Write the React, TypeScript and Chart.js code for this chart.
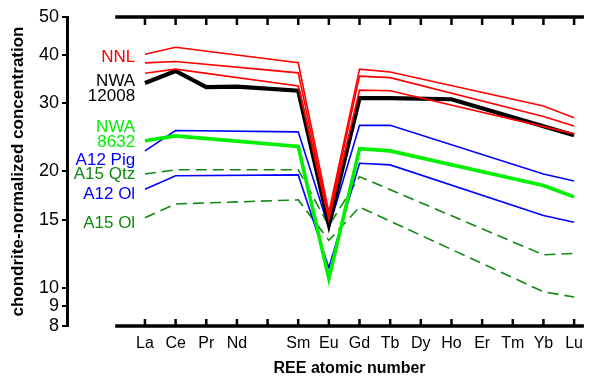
import React, { useEffect, useRef } from 'react';
import { Chart, registerables } from 'chart.js';

Chart.register(...registerables);

// ---- data ----
const elements = ['La', 'Ce', 'Pr', 'Nd', 'Pm', 'Sm', 'Eu', 'Gd', 'Tb', 'Dy', 'Ho', 'Er', 'Tm', 'Yb', 'Lu'];
const atomicNumbers = [57, 58, 59, 60, 61, 62, 63, 64, 65, 66, 67, 68, 69, 70, 71];
const unlabeledElements = ['Pm'];
const yTickValues = [8, 9, 10, 15, 20, 30, 40, 50];

//                 La    Ce    Pr    Nd    Pm    Sm    Eu    Gd    Tb    Dy    Ho    Er    Tm    Yb    Lu
const nnlHigh = [40.1, 41.8, null, null, null, 38.1, 15.7, 36.7, 36.1, null, null, null, null, 29.5, 27.5];
const nnlMid = [38.1, 38.4, null, null, null, 35.9, 15.3, 35.2, 34.9, null, null, null, null, 27.7, 26.2];
const nnlLow = [35.8, 36.7, null, null, null, 33.2, 15.0, 32.4, 32.3, null, null, null, null, 26.1, 25.0];
const nwa12008 = [33.8, 36.3, 33.0, 33.1, null, 32.3, 14.6, 30.9, 30.9, null, 30.7, null, null, null, 24.8];
const nwa8632 = [24.0, 24.7, null, null, null, 23.2, 10.6, 22.9, 22.6, null, null, null, null, 18.4, 17.2];
const a12Pig = [22.6, 25.5, null, null, null, 25.3, 14.3, 26.3, 26.3, null, null, null, null, 19.7, 18.9];
const a15Qtz = [19.7, 20.2, null, null, null, 20.2, 14.5, 19.4, null, null, null, null, null, 12.2, 12.3];
const a12Ol = [18.0, 19.5, null, null, null, 19.6, 11.3, 21.0, 20.8, null, null, null, null, 15.4, 14.8];
const a15Ol = [15.2, 16.5, null, null, null, 16.9, 13.3, 16.2, null, null, null, null, null, 9.8, 9.5];

// ---- styles ----
const RED = '#ff0000';
const BLACK = '#000000';
const BLUE = '#0000ff';
const LIME = '#00f000';
const DKGREEN = '#118811';
const FONT = '"Liberation Sans", Arial, Helvetica, sans-serif';

const X_MIN = 54.457;
const X_MAX = 71.32;
const AXIS_START = 56.03;
const LABEL_X = 56.68;

const seriesLabels = [
  { lines: ['NNL'], color: RED, at: 39.4 },
  { lines: ['NWA', '12008'], color: BLACK, at: 32.7 },
  { lines: ['NWA', '8632'], color: LIME, at: 24.8 },
  { lines: ['A12 Pig'], color: BLUE, at: 21.4 },
  { lines: ['A15 Qtz'], color: DKGREEN, at: 19.7 },
  { lines: ['A12 Ol'], color: BLUE, at: 17.5 },
  { lines: ['A15 Ol'], color: DKGREEN, at: 14.7 },
];

const toPoints = (arr: (number | null)[]) =>
  atomicNumbers
    .map((x, i) => ({ x, y: arr[i] }))
    .filter((p) => p.y !== null) as { x: number; y: number }[];

const line = (label: string, arr: (number | null)[], color: string, width: number, dash: number[] = []) => ({
  label,
  data: toPoints(arr),
  borderColor: color,
  backgroundColor: color,
  borderWidth: width,
  borderDash: dash,
  pointRadius: 0,
  tension: 0,
  fill: false,
});

const framePlugin = {
  id: 'frame',
  afterDraw(chart: any) {
    const { ctx, chartArea, scales } = chart;
    const xs = scales.x;
    const ys = scales.y;
    const left = xs.getPixelForValue(AXIS_START);
    const right = chartArea.right;
    const top = chartArea.top;
    const bottom = chartArea.bottom;
    ctx.save();
    ctx.strokeStyle = '#000';
    ctx.lineCap = 'butt';
    ctx.lineWidth = 3.5;
    ctx.beginPath();
    ctx.moveTo(left, top);
    ctx.lineTo(right, top);
    ctx.moveTo(left, bottom);
    ctx.lineTo(right, bottom);
    ctx.stroke();
    ctx.lineWidth = 2.5;
    ctx.beginPath();
    atomicNumbers.forEach((v) => {
      const px = xs.getPixelForValue(v);
      ctx.moveTo(px, top);
      ctx.lineTo(px, top + 8);
      ctx.moveTo(px, bottom);
      ctx.lineTo(px, bottom - 7);
    });
    ctx.stroke();

    // x axis title
    ctx.fillStyle = '#000';
    ctx.font = `bold 16px ${FONT}`;
    ctx.textAlign = 'center';
    ctx.textBaseline = 'middle';
    ctx.fillText('REE atomic number', (left + right) / 2, bottom + 43);

    // series labels
    ctx.font = `17px ${FONT}`;
    ctx.textAlign = 'right';
    const lx = xs.getPixelForValue(LABEL_X);
    seriesLabels.forEach((s) => {
      ctx.fillStyle = s.color;
      const cy = ys.getPixelForValue(s.at);
      const n = s.lines.length;
      s.lines.forEach((t, i) => {
        ctx.fillText(t, lx, cy + (i - (n - 1) / 2) * 15);
      });
    });
    ctx.restore();
  },
};

export default function App() {
  const ref = useRef<HTMLCanvasElement | null>(null);
  useEffect(() => {
    if (!ref.current) return;
    Chart.defaults.font.family = FONT;
    Chart.defaults.color = '#000';
    const chart = new Chart(ref.current, {
      type: 'line',
      data: {
        datasets: [
          line('NNL 1', nnlHigh, RED, 1.6),
          line('NNL 2', nnlMid, RED, 1.6),
          line('NNL 3', nnlLow, RED, 1.6),
          line('NWA 12008', nwa12008, BLACK, 4.2),
          line('NWA 8632', nwa8632, LIME, 3.6),
          line('A12 Pig', a12Pig, BLUE, 1.6),
          line('A12 Ol', a12Ol, BLUE, 1.6),
          line('A15 Qtz', a15Qtz, DKGREEN, 1.6, [11, 6]),
          line('A15 Ol', a15Ol, DKGREEN, 1.6, [11, 6]),
        ] as any,
      },
      options: {
        animation: false,
        responsive: false,
        layout: { padding: { top: 17, right: 0, bottom: 0, left: 0 } },
        plugins: { legend: { display: false }, tooltip: { enabled: false } },
        scales: {
          x: {
            type: 'linear',
            min: X_MIN,
            max: X_MAX,
            afterBuildTicks: (s: any) => {
              s.ticks = atomicNumbers.map((v) => ({ value: v }));
            },
            afterFit: (s: any) => {
              s.height = 51;
            },
            grid: { display: false, drawTicks: false },
            border: { display: false },
            ticks: {
              autoSkip: false,
              maxRotation: 0,
              padding: 8,
              font: { size: 16 },
              color: '#000',
              callback: (v: any) => {
                const i = atomicNumbers.indexOf(Number(v));
                if (i < 0) return '';
                const e = elements[i];
                return unlabeledElements.includes(e) ? '' : e;
              },
            },
          },
          y: {
            type: 'logarithmic',
            min: 8,
            max: 50,
            afterBuildTicks: (s: any) => {
              s.ticks = yTickValues.map((v) => ({ value: v }));
            },
            afterFit: (s: any) => {
              s.width = 67;
            },
            grid: {
              display: true,
              drawOnChartArea: false,
              drawTicks: true,
              tickLength: 5,
              color: '#000',
              lineWidth: 2,
            },
            border: { display: true, color: '#000', width: 3 },
            ticks: {
              autoSkip: false,
              padding: 3,
              font: { size: 18 },
              color: '#000',
              callback: (v: any) => String(v),
            },
            title: {
              display: true,
              text: 'chondrite-normalized concentration',
              font: { size: 17, weight: 'bold', lineHeight: 1 },
              padding: { top: 9.5, bottom: 0 },
              color: '#000',
            },
          },
        },
      } as any,
      plugins: [framePlugin],
    });
    return () => chart.destroy();
  }, []);
  return (
    <div style={{ position: 'absolute', left: 0, top: 0, width: 591, height: 377, background: '#fff' }}>
      <canvas ref={ref} width={591} height={377} />
    </div>
  );
}
